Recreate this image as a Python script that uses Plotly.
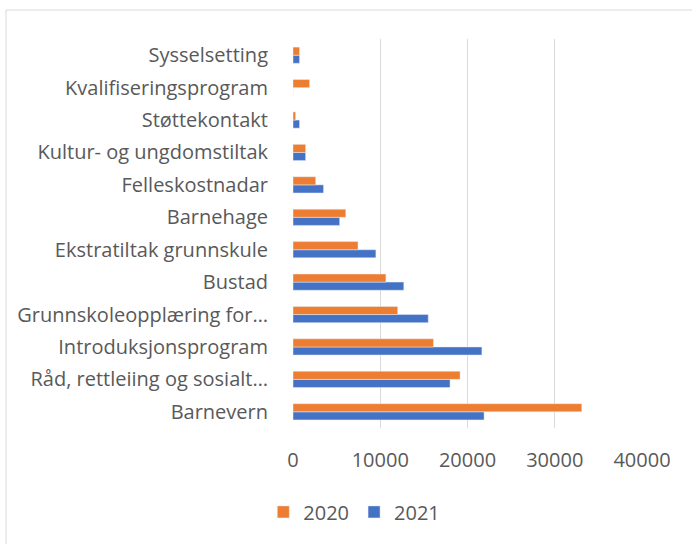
import plotly.graph_objects as go

categories = [
    "Barnevern",
    "Råd, rettleiing og sosialt…",
    "Introduksjonsprogram",
    "Grunnskoleopplæring for…",
    "Bustad",
    "Ekstratiltak grunnskule",
    "Barnehage",
    "Felleskostnadar",
    "Kultur- og ungdomstiltak",
    "Støttekontakt",
    "Kvalifiseringsprogram",
    "Sysselsetting",
]
values_2020 = [33100, 19150, 16100, 12000, 10650, 7450, 6050, 2600, 1450, 300, 1900, 750]
values_2021 = [21900, 18000, 21650, 15500, 12700, 9500, 5350, 3500, 1450, 750, 0, 750]
tick_vals = [0, 10000, 20000, 30000, 40000]
tick_text = ["0", "10000", "20000", "30000", "40000"]

FONT = "Open Sans"
GREY = "#595959"

fig = go.Figure()
fig.add_trace(go.Bar(y=categories, x=values_2021, name="2021", orientation="h",
                     marker=dict(color="#4472C4"), legendrank=2))
fig.add_trace(go.Bar(y=categories, x=values_2020, name="2020", orientation="h",
                     marker=dict(color="#ED7D31"), legendrank=1))

fig.update_layout(
    width=692, height=544,
    margin=dict(l=293, r=50, t=39, b=116, autoexpand=False),
    paper_bgcolor="white", plot_bgcolor="white",
    barmode="group", bargap=0.5, bargroupgap=0,
    font=dict(family=FONT, size=20, color=GREY),
    showlegend=True,
    legend=dict(orientation="h", xref="container", x=0.512, xanchor="center",
                yref="container", y=0.059, yanchor="middle",
                font=dict(size=20, color=GREY), itemwidth=30, traceorder="normal"),
    xaxis=dict(range=[0, 40000], tickvals=tick_vals, ticktext=tick_text, showgrid=True,
               gridcolor="#d9d9d9", gridwidth=1, zeroline=False, showline=False,
               ticklabelstandoff=18, automargin=False,
               tickfont=dict(size=20, color=GREY)),
    yaxis=dict(type="category", showgrid=False, showline=False, ticklabelstandoff=24,
               automargin=False, tickfont=dict(size=20, color=GREY)),
    shapes=[dict(type="rect", xref="paper", yref="paper",
                 x0=(6 - 293) / 349, x1=(700 - 293) / 349,
                 y0=(428 - 560) / 389, y1=(428 - 10) / 389,
                 line=dict(color="#d9d9d9", width=1), fillcolor="rgba(0,0,0,0)", layer="below")],
)

fig.write_html("out.html", config={"displayModeBar": False},
               post_script="document.body.style.margin='0';")
